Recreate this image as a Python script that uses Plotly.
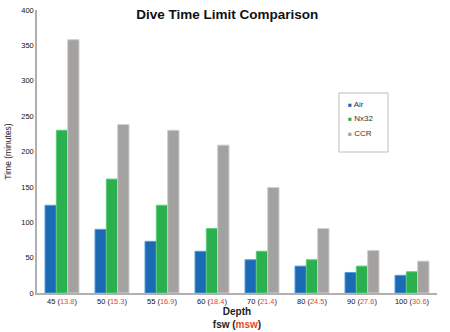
import plotly.graph_objects as go

depth_fsw = ["45", "50", "55", "60", "70", "80", "90", "100"]
depth_msw = ["13.8", "15.3", "16.9", "18.4", "21.4", "24.5", "27.6", "30.6"]
air = [124, 90, 73, 59, 47, 38, 29, 25]
nx32 = [230, 161, 124, 91, 59, 47, 38, 30]
ccr = [358, 238, 230, 209, 149, 91, 60, 45]
y_ticks = [0, 50, 100, 150, 200, 250, 300, 350, 400]

RED = "#e8452f"
tick_text = [f"{f} (<span style='color:{RED}'>{m}</span>)" for f, m in zip(depth_fsw, depth_msw)]

series = [
    ("Air", air, "#1a6ab4", "#5a9bd8"),
    ("Nx32", nx32, "#2bb04f", "#5ccb7a"),
    ("CCR", ccr, "#a3a2a0", "#cfcfcd"),
]

fig = go.Figure()
for name, vals, col, edge in series:
    fig.add_trace(go.Bar(
        x=depth_fsw, y=vals, name=name, showlegend=False,
        marker=dict(color=col, line=dict(color=edge, width=1)),
    ))

# legend box drawn as shape + annotations (compact, like the reference)
L, T = 37, 10
PW, PH = 400, 283.0
def px(x):
    return (x - L) / PW
def py(y):
    return (T + PH - y) / PH

fig.add_shape(type="rect", xref="paper", yref="paper",
              x0=px(339), x1=px(388), y0=py(152), y1=py(93),
              line=dict(color="#bdbdbd", width=1), fillcolor="white")
for i, (name, vals, col, edge) in enumerate(series):
    fig.add_annotation(
        xref="paper", yref="paper", x=px(346), y=py(104 + i * 14.5),
        xanchor="left", yanchor="middle", showarrow=False,
        text=f"<span style='color:{col};font-size:6.5px'>■</span> {name}",
        font=dict(size=8, color="#333"),
    )

font = "Liberation Sans, Arial, sans-serif"
fig.update_layout(
    width=450, height=332,
    margin=dict(l=37, r=13, t=10, b=39),
    paper_bgcolor="white", plot_bgcolor="white",
    barmode="group", bargap=0.32, bargroupgap=0,
    showlegend=False,
    font=dict(family=font, size=8, color="#222"),
    title=dict(text="<b>Dive Time Limit Comparison</b>", x=0.505, xanchor="center",
               y=0.958, yanchor="middle", font=dict(size=13.5, color="#111")),
    xaxis=dict(
        tickmode="array", tickvals=depth_fsw, ticktext=tick_text,
        tickfont=dict(size=7.5, color="#111"),
        showline=True, linecolor="#b0b0b0", linewidth=1.5, ticks="",
        showgrid=False, automargin=False,
        title=dict(text="<b>Depth<br>fsw (<span style='color:%s'>msw</span>)</b>" % RED,
                   font=dict(size=10, color="#222"), standoff=0),
    ),
    yaxis=dict(
        range=[0, 400], tickvals=y_ticks, tickfont=dict(size=7.5, color="#111"),
        showline=True, linecolor="#b0b0b0", linewidth=1.5, ticks="",
        showgrid=False, zeroline=False, automargin=False,
        title=dict(text="Time (minutes)", font=dict(size=8.5, color="#222"), standoff=8),
    ),
)

fig.write_html("out.html")
